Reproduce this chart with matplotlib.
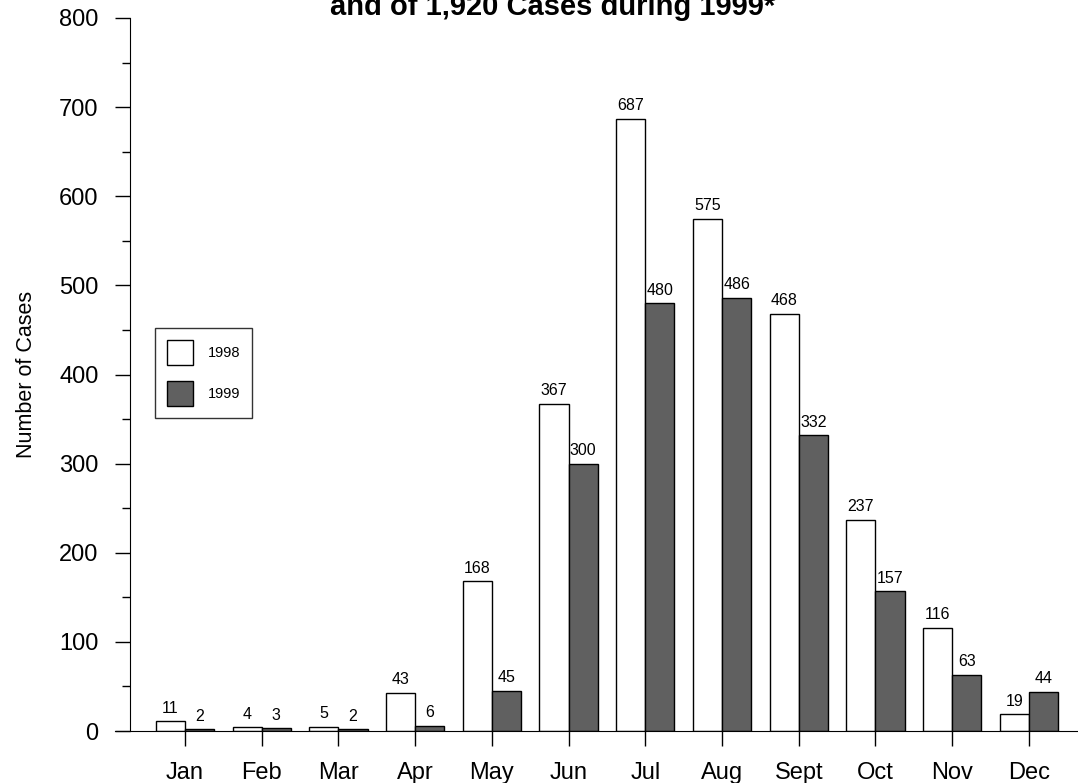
import numpy as np
import matplotlib
matplotlib.use("Agg")
import matplotlib.pyplot as plt
from matplotlib.ticker import MultipleLocator

plt.rcParams['font.family'] = ['Liberation Sans', 'DejaVu Sans']

# data
months = ["Jan", "Feb", "Mar", "Apr", "May", "Jun", "Jul", "Aug", "Sept", "Oct", "Nov", "Dec"]
cases_1998 = [11, 4, 5, 43, 168, 367, 687, 575, 468, 237, 116, 19]
cases_1999 = [2, 3, 2, 6, 45, 300, 480, 486, 332, 157, 63, 44]
title_text = "and of 1,920 Cases during 1999*"

fig = plt.figure(figsize=(10.78, 7.83), dpi=100)
ax = fig.add_axes([115 / 1078, 52 / 783, 963 / 1078, 713 / 783])

x = np.arange(len(months))
w = 0.38
b1 = ax.bar(x - w / 2, cases_1998, w, color="white", edgecolor="black", linewidth=1, label="1998")
b2 = ax.bar(x + w / 2, cases_1999, w, color="#606060", edgecolor="black", linewidth=1, label="1999")

# value labels on top of each bar
for bars in (b1, b2):
    ax.bar_label(bars, padding=4, fontsize=11.5)

ax.set_xlim(-0.912, 11.64)
ax.set_ylim(0, 800)

# axis styling
ax.spines['top'].set_visible(False)
ax.spines['right'].set_visible(False)
ax.spines['left'].set_position(('data', -0.717))
ax.spines['bottom'].set_position(('data', 0))

ax.yaxis.set_major_locator(MultipleLocator(100))
ax.yaxis.set_minor_locator(MultipleLocator(50))
ax.tick_params(axis='y', which='major', length=10.5, width=1, labelsize=17, pad=12)
ax.tick_params(axis='y', which='minor', length=5.5, width=1)
ax.set_xticks(x)
ax.set_xticklabels(months)
ax.tick_params(axis='x', length=11, width=1, labelsize=17, pad=11)

ax.set_ylabel("Number of Cases", fontsize=15.5, labelpad=16)

leg = ax.legend(loc='upper left', bbox_to_anchor=(40 / 963, (731 - 328) / 713),
                fancybox=False, edgecolor='black', fontsize=10.5,
                handlelength=1.8, handleheight=2.3, labelspacing=1.1,
                borderpad=0.8, handletextpad=1.0, borderaxespad=0)
leg.get_frame().set_linewidth(1)

fig.text(553 / 1078, (783 - 15) / 783, title_text, ha='center', va='baseline',
         fontsize=21, fontweight='bold')

fig.savefig("out.png", dpi=100)
